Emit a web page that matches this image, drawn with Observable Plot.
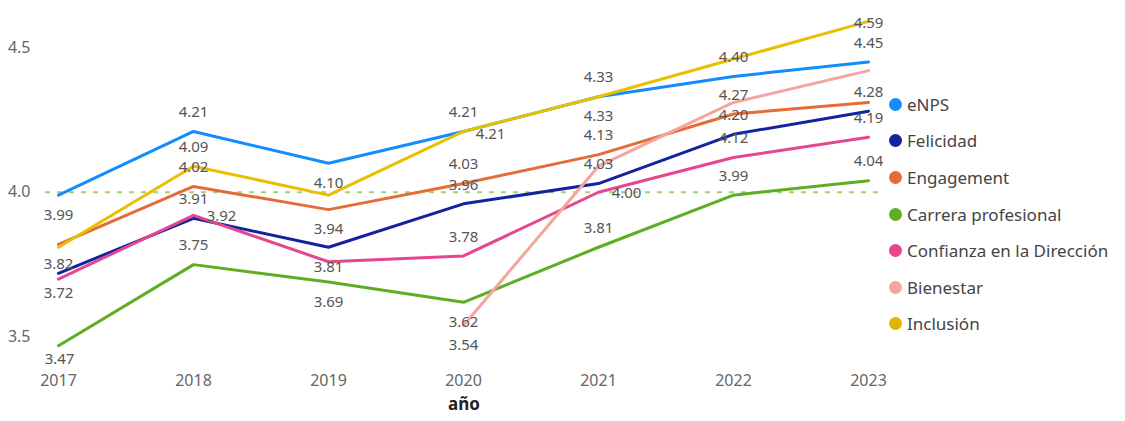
<!DOCTYPE html>
<html>
<head>
<meta charset="utf-8">
<script src="https://cdn.jsdelivr.net/npm/d3@7"></script>
<script src="https://cdn.jsdelivr.net/npm/@observablehq/plot@0.6"></script>
<style>
  html, body { margin: 0; padding: 0; background: #fff; }
  #wrap { position: relative; width: 1125px; height: 421px; font-family: "Noto Sans", sans-serif; }
  #chart { position: absolute; left: 0; top: 0; }
  #legend { position: absolute; left: 889px; top: 86px; }
  .row { height: 36.6px; display: flex; align-items: center; font-size: 17px; color: #444; white-space: nowrap; }
  .dot { width: 13px; height: 13px; border-radius: 50%; margin-right: 5px; flex: none; }
</style>
</head>
<body>
<div id="wrap">
  <div id="chart"></div>
  <div id="legend"></div>
</div>
<script>
// ---- data ----
const years = [2017, 2018, 2019, 2020, 2021, 2022, 2023];
const seriesNames = ["eNPS", "Felicidad", "Engagement", "Carrera profesional", "Confianza en la Dirección", "Bienestar", "Inclusión"];
const eNPS       = [3.99, 4.21, 4.10, 4.21, 4.33, 4.40, 4.45];
const felicidad  = [3.72, 3.91, 3.81, 3.96, 4.03, 4.20, 4.28];
const engagement = [3.82, 4.02, 3.94, 4.03, 4.13, 4.27, 4.31];
const carrera    = [3.47, 3.75, 3.69, 3.62, 3.81, 3.99, 4.04];
const confianza  = [3.70, 3.92, 3.76, 3.78, 4.00, 4.12, 4.19];
const bienestar  = [null, null, null, 3.54, 4.09, 4.31, 4.42];
const inclusion  = [3.81, 4.09, 3.99, 4.21, 4.33, 4.46, 4.59];
const referenceValue = 4.0;
const yTickValues = [3.5, 4.0, 4.5];
const xLabel = "año";

// ---- styles ----
const seriesColors = ["#118DFF", "#12239E", "#E66C37", "#5DAE22", "#E5468E", "#F4A59C", "#E8C000"];
const legendColors = ["#118DFF", "#12239E", "#E66C37", "#5DAE22", "#E5468E", "#F4A59C", "#E0B400"];
// where each data label sits relative to its point (null = label hidden)
const labelPlacement = {
  "eNPS":                      ["below", "above", "below", "above", "above", "above", "above"],
  "Felicidad":                 ["below", "above", "below", "above", "above", "above", "above"],
  "Engagement":                ["below", "above", "below", "above", "above", "above", null],
  "Carrera profesional":       ["low", "above", "below", "below", "above", "above", "above"],
  "Confianza en la Dirección": [null, "right", null, "above", "right", "above", "above"],
  "Bienestar":                 [null, null, null, "below", null, null, null],
  "Inclusión":                 [null, "above", null, "rightBelow", "below", null, "on"]
};
const offsets = {
  above: {dx: 0, dy: -19},
  below: {dx: 0, dy: 20},
  low: {dx: 1, dy: 13},
  right: {dx: 28, dy: 1},
  rightBelow: {dx: 27, dy: 3},
  on: {dx: 0, dy: 2}
};

const valuesBySeries = [eNPS, felicidad, engagement, carrera, confianza, bienestar, inclusion];
const rows = [];
seriesNames.forEach((name, i) => {
  years.forEach((yr, j) => {
    rows.push({series: name, year: yr, value: valuesBySeries[i][j], place: labelPlacement[name][j]});
  });
});

const fmt = d3.format(".2f");
const textMarks = Object.entries(offsets).map(([code, o]) =>
  Plot.text(rows.filter(r => r.place === code && r.value != null), {
    x: "year", y: "value", text: d => fmt(d.value),
    dx: o.dx, dy: o.dy, fill: "#555", fontSize: 15
  })
);

const chart = Plot.plot({
  width: 900,
  height: 421,
  marginLeft: 45,
  marginRight: 18,
  marginTop: 18,
  marginBottom: 70,
  style: {fontFamily: "Noto Sans", fontSize: "16px", color: "#666", background: "transparent", overflow: "visible"},
  x: {domain: [2017, 2023], range: [58, 868], ticks: years, tickFormat: d => String(d), tickSize: 0, tickPadding: 23, label: null},
  y: {domain: [3.45, 4.6], ticks: yTickValues, tickFormat: d3.format(".1f"), tickSize: 0, tickPadding: 15, label: null},
  color: {domain: seriesNames, range: seriesColors},
  marks: [
    Plot.ruleY([referenceValue], {stroke: "#A2D466", strokeWidth: 2, strokeDasharray: "5,7"}),
    Plot.line(rows, {x: "year", y: "value", z: "series", stroke: "series", strokeWidth: 3, curve: "linear"}),
    ...textMarks,
    Plot.text([xLabel], {frameAnchor: "bottom", dy: 58, fontWeight: "bold", fontSize: 17, fill: "#222"})
  ]
});
document.getElementById("chart").appendChild(chart);

// legend
const legend = document.getElementById("legend");
seriesNames.forEach((name, i) => {
  const row = document.createElement("div");
  row.className = "row";
  const dot = document.createElement("span");
  dot.className = "dot";
  dot.style.background = legendColors[i];
  const label = document.createElement("span");
  label.textContent = name;
  row.appendChild(dot);
  row.appendChild(label);
  legend.appendChild(row);
});
</script>
</body>
</html>
